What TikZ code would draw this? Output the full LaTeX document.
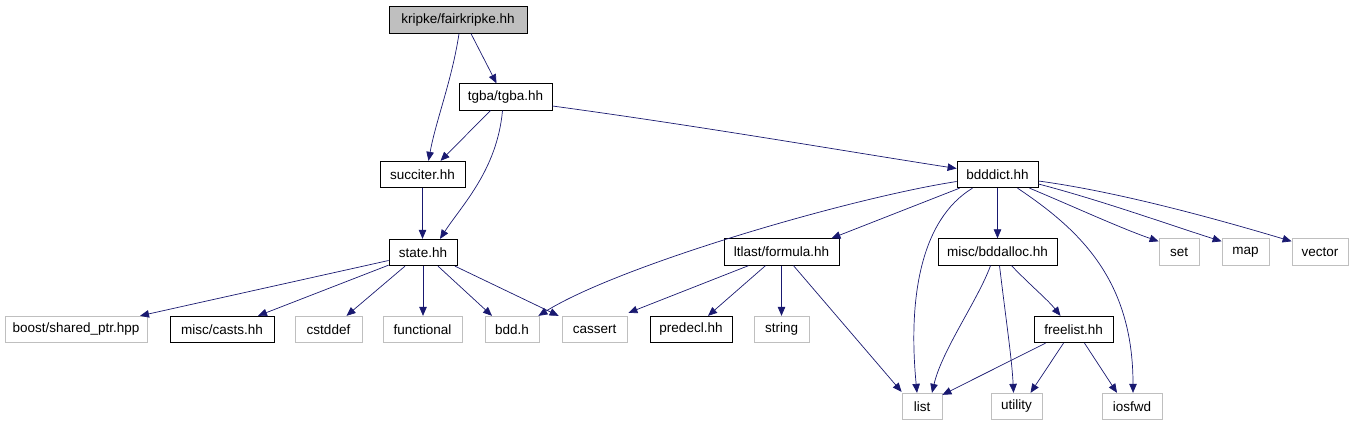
\documentclass[tikz,border=0pt]{standalone}
\usepackage{fontspec}
\setmainfont{Liberation Sans}
\usetikzlibrary{arrows.meta}
\definecolor{edgecol}{HTML}{191970}
\definecolor{lgray}{HTML}{BFBFBF}
\tikzset{
  filebox/.style={draw=black, line width=0.8pt, font=\fontsize{13.5}{16}\selectfont, inner sep=0pt, minimum height=26.5pt},
  sysbox/.style={filebox, draw=lgray},
  dep/.style={draw=edgecol, line width=0.7pt, -{Triangle[length=9pt,width=7.5pt]}, edgecol}
}
\begin{document}
\begin{tikzpicture}[x=1pt,y=-1pt]
\useasboundingbox (0,0) rectangle (1356,427);
% nodes
\node[filebox, fill=lgray, minimum width=138pt] (fk) at (458,20) {kripke/fairkripke.hh};
\node[filebox, minimum width=93pt] (tgba) at (505.5,97) {tgba/tgba.hh};
\node[filebox, minimum width=85pt] (succ) at (422.5,174.5) {succiter.hh};
\node[filebox, minimum width=68pt] (state) at (423,252.5) {state.hh};
\node[filebox, minimum width=81pt] (bdddict) at (997.5,174.5) {bdddict.hh};
\node[sysbox, minimum width=142pt] (boost) at (76,329.5) {boost/shared\_ptr.hpp};
\node[filebox, minimum width=104pt] (casts) at (222,329.5) {misc/casts.hh};
\node[sysbox, minimum width=67pt] (cstddef) at (328.5,329.5) {cstddef};
\node[sysbox, minimum width=79pt] (functional) at (422.5,329.5) {functional};
\node[sysbox, minimum width=54pt] (bddh) at (512,329.5) {bdd.h};
\node[sysbox, minimum width=65pt] (cassert) at (594.5,329.5) {cassert};
\node[filebox, minimum width=82pt] (predecl) at (691,329.5) {predecl.hh};
\node[sysbox, minimum width=55pt] (string) at (781.5,329.5) {string};
\node[filebox, minimum width=115pt] (ltlast) at (781.5,252) {ltlast/formula.hh};
\node[filebox, minimum width=119pt] (bddalloc) at (997.5,252) {misc/bddalloc.hh};
\node[sysbox, minimum width=40pt] (set) at (1179,252) {set};
\node[sysbox, minimum width=47pt] (map) at (1245.5,252) {map};
\node[sysbox, minimum width=56pt] (vector) at (1320,252) {vector};
\node[filebox, minimum width=79pt] (freelist) at (1073.5,329.5) {freelist.hh};
\node[sysbox, minimum width=40pt] (list) at (922,406.5) {list};
\node[sysbox, minimum width=51pt] (utility) at (1016.5,406.5) {utility};
\node[sysbox, minimum width=60pt] (iosfwd) at (1132,406.5) {iosfwd};
% edges
\draw[dep] ([xshift=1pt]fk.south) .. controls (452,80) and (436,120) .. ([xshift=6pt]succ.north);
\draw[dep] ([xshift=13pt]fk.south) -- ([xshift=-9pt]tgba.north);
\draw[dep] ([xshift=-15pt]tgba.south) -- ([xshift=18pt]succ.north);
\draw[dep] ([xshift=-3pt]tgba.south) .. controls (497,170) and (462,205) .. ([xshift=17pt]state.north);
\draw[dep] ([yshift=-9pt]tgba.east) .. controls (700,126) and (850,152) .. ([yshift=6pt]bdddict.west);
\draw[dep] (succ.south) -- (succ.south |- state.north);
\draw[dep] ([yshift=-8pt]state.west) -- ([xshift=64pt]boost.north);
\draw[dep] ([yshift=1pt]state.south west) -- ([xshift=36pt]casts.north);
\draw[dep] ([xshift=-18pt]state.south) -- ([xshift=18pt]cstddef.north);
\draw[dep] (state.south) -- (state.south |- functional.north);
\draw[dep] ([xshift=15pt]state.south) -- ([xshift=-20pt]bddh.north);
\draw[dep] ([xshift=32pt]state.south) -- ([xshift=-3pt]cassert.north west);
\draw[dep] ([yshift=-7pt]bdddict.west) .. controls (850,198) and (620,265) .. ([xshift=-1pt]bddh.north east);
\draw[dep] ([xshift=3pt]bdddict.south west) -- ([xshift=-8pt]ltlast.north east);
\draw[dep] ([xshift=-25pt]bdddict.south) .. controls (920,220) and (908,300) .. ([xshift=-5pt]list.north);
\draw[dep] (bdddict.south) -- (bdddict.south |- bddalloc.north);
\draw[dep] ([xshift=20pt]bdddict.south) .. controls (1080,230) and (1133,280) .. ([xshift=1pt]iosfwd.north);
\draw[dep] ([xshift=32pt]bdddict.south) .. controls (1070,205) and (1120,228) .. ([yshift=-3pt]set.north west);
\draw[dep] ([yshift=-9.5pt]bdddict.east) .. controls (1100,200) and (1170,225) .. ([yshift=-3pt]map.north west);
\draw[dep] ([yshift=-6.5pt]bdddict.east) .. controls (1120,192) and (1220,220) .. ([yshift=-3pt]vector.north west);
\draw[dep] ([xshift=-33pt]ltlast.south) -- ([xshift=1pt,yshift=3pt]cassert.north east);
\draw[dep] ([xshift=-16pt]ltlast.south) -- ([xshift=17pt]predecl.north);
\draw[dep] (ltlast.south) -- (ltlast.south |- string.north);
\draw[dep] ([xshift=12pt]ltlast.south) -- ([yshift=1pt]list.north west);
\draw[dep] ([xshift=-7pt]bddalloc.south) .. controls (978,300) and (942,350) .. ([xshift=10pt]list.north);
\draw[dep] ([xshift=2pt]bddalloc.south) .. controls (1006,320) and (1012,360) .. ([xshift=-3pt]utility.north);
\draw[dep] ([xshift=14pt]bddalloc.south) .. controls (1030,285) and (1048,300) .. ([xshift=-13pt]freelist.north);
\draw[dep] ([xshift=-28pt]freelist.south) -- ([yshift=-2pt]list.north east);
\draw[dep] ([xshift=-10pt]freelist.south) -- ([xshift=14pt]utility.north);
\draw[dep] ([xshift=11pt]freelist.south) -- ([xshift=-15pt]iosfwd.north);
\end{tikzpicture}
\end{document}
